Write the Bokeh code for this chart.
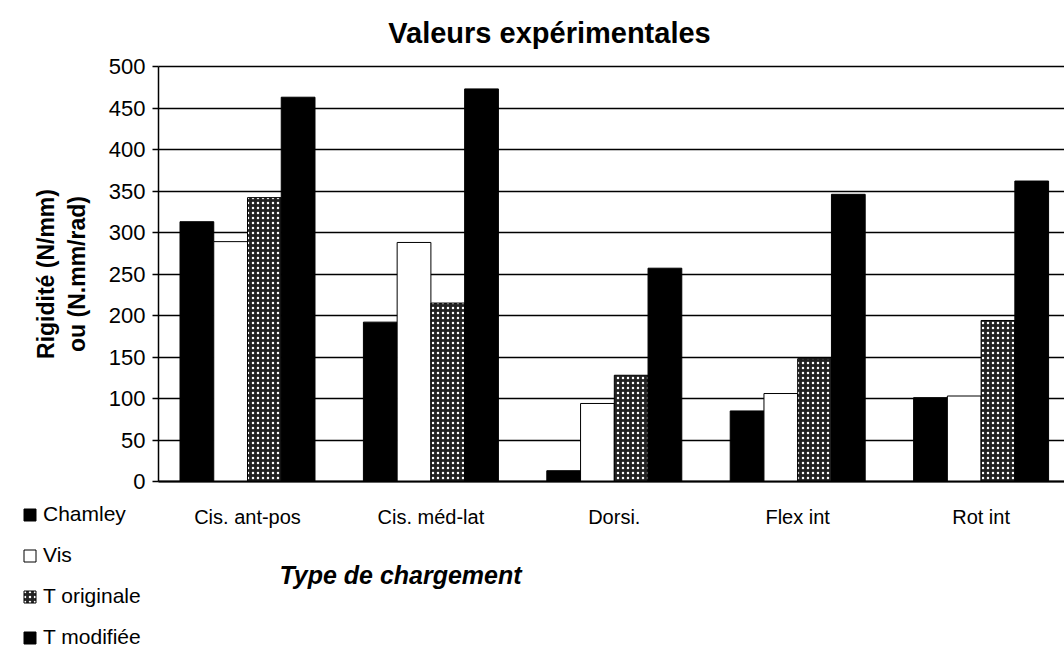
from bokeh.plotting import figure
from bokeh.models import (Range1d, FixedTicker, Label, Legend, LegendItem,
                          ColumnDataSource, BoxAnnotation)
from bokeh.embed import file_html
from bokeh.resources import INLINE

categories = ["Cis. ant-pos", "Cis. méd-lat", "Dorsi.", "Flex int", "Rot int"]
series_names = ["Chamley", "Vis", "T originale", "T modifiée"]
chamley = [313, 192, 13, 85, 101]
vis = [289, 288, 94, 106, 103]
t_originale = [342, 215, 128, 148, 194]
t_modifiee = [463, 473, 257, 346, 362]
y_ticks = [0, 50, 100, 150, 200, 250, 300, 350, 400, 450, 500]

FONT = "Liberation Sans"

W, H = 1064, 663
# layout geometry (pixels): category spacing, first category centre, y=0 row, px per unit
CAT_PX, CAT0_PX, Y0_PX, KY = 183.4, 247.0, 481.0, 0.83
AXIS_PX = 158.0

def xd(px):
    return (px - CAT0_PX) / CAT_PX

def yd(py):
    return (Y0_PX - py) / KY

p = figure(width=W, height=H, output_backend="svg", toolbar_location=None,
           x_range=Range1d(xd(0), xd(W)), y_range=Range1d(yd(H), yd(0)),
           min_border_left=0, min_border_right=0, min_border_top=0, min_border_bottom=0)
p.outline_line_color = None
p.background_fill_color = "white"

x_axis_pos = xd(AXIS_PX)

x_idx = list(range(len(categories)))
bw = 0.184
series = [chamley, vis, t_originale, t_modifiee]
styles = [
    dict(fill_color="black", line_color="black"),
    dict(fill_color="white", line_color="black"),
    dict(fill_color="#222222", line_color="black", hatch_pattern="dot",
         hatch_color="white", hatch_scale=5, hatch_weight=1.3),
    dict(fill_color="black", line_color="black"),
]
renderers = []
for j, (vals, st) in enumerate(zip(series, styles)):
    xs = [i + (j - 1.5) * bw for i in x_idx]
    src = ColumnDataSource(dict(x=xs, top=vals))
    r = p.vbar(x="x", top="top", bottom=0, width=bw, source=src, line_width=1, **st)
    renderers.append(r)

# axes placed at fixed data positions
p.xaxis.fixed_location = 0
p.xaxis.bounds = (x_axis_pos, xd(W))
p.xaxis.ticker = FixedTicker(ticks=x_idx)
p.xaxis.major_label_overrides = {i: c for i, c in zip(x_idx, categories)}
p.xaxis.major_tick_line_color = None
p.xaxis.minor_tick_line_color = None
p.xaxis.axis_line_color = "black"
p.xaxis.axis_line_width = 2
p.xaxis.major_label_text_font = FONT
p.xaxis.major_label_text_font_size = "20px"
p.xaxis.major_label_text_color = "black"
p.xaxis.major_label_standoff = 18

p.yaxis.fixed_location = x_axis_pos
p.yaxis.bounds = (0, 500)
p.yaxis.ticker = FixedTicker(ticks=y_ticks)
p.yaxis.minor_tick_line_color = None
p.yaxis.major_tick_in = 0
p.yaxis.major_tick_out = 6
p.yaxis.major_tick_line_color = "black"
p.yaxis.major_tick_line_width = 1.5
p.yaxis.axis_line_color = "black"
p.yaxis.axis_line_width = 1.5
p.yaxis.major_label_text_font = FONT
p.yaxis.major_label_text_font_size = "22px"
p.yaxis.major_label_text_color = "black"
p.yaxis.major_label_standoff = 7
p.yaxis.axis_label = "Rigidité (N/mm)\nou (N.mm/rad)"
p.yaxis.axis_label_text_font = FONT
p.yaxis.axis_label_text_font_size = "23px"
p.yaxis.axis_label_text_font_style = "bold"
p.yaxis.axis_label_text_color = "black"
p.yaxis.axis_label_standoff = 16

p.xgrid.grid_line_color = None
p.ygrid.ticker = FixedTicker(ticks=y_ticks)
p.ygrid.grid_line_color = "black"
p.ygrid.grid_line_width = 1.5

grid = p.ygrid[0]
if "cross_bounds" in grid.properties():
    grid.cross_bounds = (x_axis_pos, xd(W))
else:
    # keep the gridlines to the right of the value axis
    mask = BoxAnnotation(left=xd(-20), right=x_axis_pos, fill_color="white", fill_alpha=1,
                         line_color=None, level="underlay")
    p.add_layout(mask)

# title and x label
title = Label(x=xd(549), y=yd(32), text="Valeurs expérimentales", text_font=FONT,
              text_font_size="29px", text_font_style="bold", text_align="center",
              text_baseline="middle", text_color="black")
p.add_layout(title)
xlab = Label(x=xd(400), y=yd(574), text="Type de chargement", text_font=FONT,
             text_font_size="25px", text_font_style="bold italic", text_align="center",
             text_baseline="middle", text_color="black")
p.add_layout(xlab)

legend = Legend(items=[LegendItem(label=n, renderers=[r]) for n, r in zip(series_names, renderers)],
                location=(22, H - 649), orientation="vertical",
                glyph_width=15, glyph_height=15, label_standoff=6, label_height=20,
                spacing=17, padding=0, margin=0, border_line_color=None,
                background_fill_alpha=0, label_text_font=FONT,
                label_text_font_size="21px", label_text_color="black")
p.add_layout(legend)

open("out.html", "w").write(file_html(p, INLINE))
